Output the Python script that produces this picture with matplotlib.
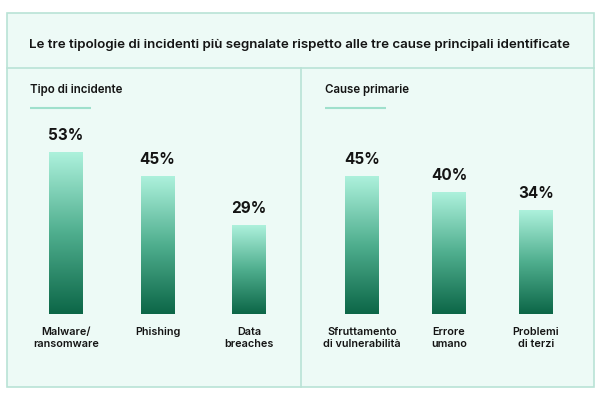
import numpy as np
import matplotlib.pyplot as plt
from matplotlib.colors import LinearSegmentedColormap
from matplotlib.patches import Rectangle
from matplotlib.lines import Line2D

plt.rcParams['font.family'] = ['Inter', 'DejaVu Sans']

title = "Le tre tipologie di incidenti più segnalate rispetto alle tre cause principali identificate"

incident_labels = ["Malware/\nransomware", "Phishing", "Data\nbreaches"]
incident_values = [53, 45, 29]

cause_labels = ["Sfruttamento\ndi vulnerabilità", "Errore\numano", "Problemi\ndi terzi"]
cause_values = [45, 40, 34]

panel_titles = ["Tipo di incidente", "Cause primarie"]

W, H = 600, 400
bg = '#edfaf6'
edge = '#b9e3d6'
accent = '#9fe0cc'
ink = '#141414'
cmap = LinearSegmentedColormap.from_list('bar', ['#0c6647', '#4fae8e', '#adf1dc'])


def fx(x):
    return x / W


def fy(y):
    return 1 - y / H


fig = plt.figure(figsize=(6, 4), dpi=100, facecolor='white')

# outer box and dividers (figure pixels)
fig.add_artist(Rectangle((fx(7), fy(387)), fx(587), 374 / H, transform=fig.transFigure,
                         facecolor=bg, edgecolor=edge, linewidth=1.2, zorder=-2))
fig.add_artist(Line2D([fx(7), fx(594)], [fy(68), fy(68)], transform=fig.transFigure,
                      color=edge, linewidth=1.2, zorder=-1))
fig.add_artist(Line2D([fx(301), fx(301)], [fy(68), fy(387)], transform=fig.transFigure,
                      color=edge, linewidth=1.2, zorder=-1))

fig.text(fx(299), fy(45), title, ha='center', va='center', fontsize=9.6,
         fontweight='semibold', color=ink)

for x0, t in zip([30, 325], panel_titles):
    fig.text(fx(x0), fy(90), t, ha='left', va='center', fontsize=8.3,
             fontweight='semibold', color=ink)
    fig.add_artist(Line2D([fx(x0), fx(x0 + 61)], [fy(108), fy(108)], transform=fig.transFigure,
                          color=accent, linewidth=1.5, solid_capstyle='butt'))

grad = np.linspace(0, 1, 256).reshape(-1, 1)
px_per_pct = 3.05
ax_h = 200


def panel(left, width, first_center, spacing, labels, values):
    ax = fig.add_axes([fx(left), fy(314), fx(width), ax_h / H])
    ax.set_facecolor('none')
    ax.axis('off')
    bw = 34 / spacing
    for i, (lab, v) in enumerate(zip(labels, values)):
        ax.imshow(grad, cmap=cmap, origin='lower', aspect='auto',
                  extent=[i - bw / 2, i + bw / 2, 0, v], interpolation='bilinear')
        ax.annotate(f"{v}%", (i, v), xytext=(0, 17), textcoords='offset pixels',
                    ha='center', va='center', fontsize=11, fontweight='bold', color=ink)
        ax.annotate(lab, (i, 0), xytext=(0, -13), textcoords='offset pixels',
                    ha='center', va='top', fontsize=7.8, fontweight='semibold',
                    color=ink, linespacing=1.25, annotation_clip=False)
    xmin = -(first_center - left) / spacing
    ax.set_xlim(xmin, xmin + width / spacing)
    ax.set_ylim(0, ax_h / px_per_pct)
    return ax


panel(7, 294, 66, 91.5, incident_labels, incident_values)
panel(301, 293, 362, 87, cause_labels, cause_values)

fig.savefig('out.png', dpi=100, facecolor='white')
